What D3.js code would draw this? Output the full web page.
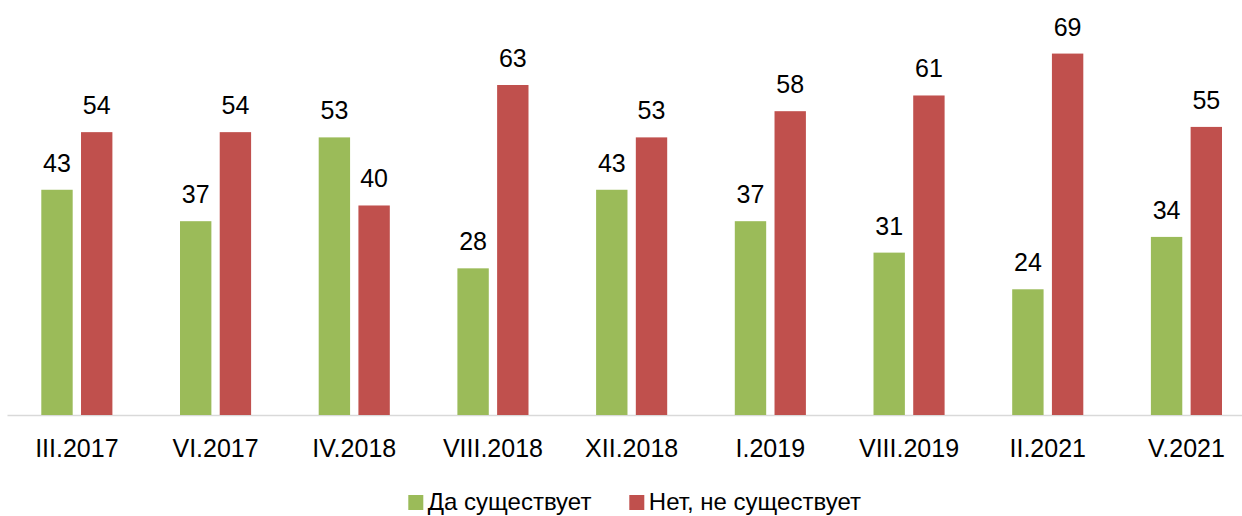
<!DOCTYPE html>
<html lang="ru">
<head>
<meta charset="utf-8">
<title>Да / Нет</title>
<script src="https://cdn.jsdelivr.net/npm/d3@7"></script>
<style>
  body { margin: 0; background: #fff; }
  text { font-family: "Liberation Sans", Arial, sans-serif; fill: #000; }
</style>
</head>
<body>
<script>
// data
var categories = ["III.2017", "VI.2017", "IV.2018", "VIII.2018", "XII.2018", "I.2019", "VIII.2019", "II.2021", "V.2021"];
var seriesNames = ["Да существует", "Нет, не существует"];
var yesValues = [43, 37, 53, 28, 43, 37, 31, 24, 34];
var noValues = [54, 54, 40, 63, 53, 58, 61, 69, 55];
var colors = ["#9bbb59", "#c0504d"];

var w = 1242, h = 516;
var baseY = 415;

var svg = d3.select("body").append("svg")
  .attr("width", w)
  .attr("height", h);

var x0 = d3.scaleBand()
  .domain(categories)
  .range([7.5, 7.5 + 9 * 138.7])
  .paddingInner(0)
  .paddingOuter(0);

var x1 = d3.scaleBand()
  .domain([0, 1])
  .range([33.8, 104.9])
  .paddingInner(0.21)
  .paddingOuter(0);

var y = d3.scaleLinear()
  .domain([0, 80])
  .range([baseY, baseY - 80 * 5.238]);

var rows = categories.map(function(c, i) {
  return { cat: c, vals: [yesValues[i], noValues[i]] };
});

// axis line
svg.append("line")
  .attr("x1", 7.5).attr("x2", w)
  .attr("y1", baseY + 0.5).attr("y2", baseY + 0.5)
  .attr("stroke", "#d9d9d9")
  .attr("stroke-width", 1.5);

var groups = svg.selectAll("g.grp")
  .data(rows)
  .enter()
  .append("g")
  .attr("class", "grp")
  .attr("transform", function(d) { return "translate(" + x0(d.cat) + ",0)"; });

groups.selectAll("rect")
  .data(function(d) { return d.vals; })
  .enter()
  .append("rect")
  .attr("x", function(d, i) { return x1(i); })
  .attr("width", x1.bandwidth())
  .attr("y", function(d) { return y(d); })
  .attr("height", function(d) { return baseY - y(d); })
  .attr("fill", function(d, i) { return colors[i]; });

groups.selectAll("text.val")
  .data(function(d) { return d.vals; })
  .enter()
  .append("text")
  .attr("class", "val")
  .attr("x", function(d, i) { return x1(i) + x1.bandwidth() / 2; })
  .attr("y", function(d) { return y(d) - 18; })
  .attr("text-anchor", "middle")
  .attr("font-size", 25)
  .text(function(d) { return d; });

// category labels
svg.selectAll("text.cat")
  .data(categories)
  .enter()
  .append("text")
  .attr("class", "cat")
  .attr("x", function(d) { return x0(d) + x0.bandwidth() / 2; })
  .attr("y", 457)
  .attr("text-anchor", "middle")
  .attr("font-size", 25)
  .text(function(d) { return d; });

// legend
var legendX = [408.3, 629.3];
var legend = svg.selectAll("g.leg")
  .data(seriesNames)
  .enter()
  .append("g")
  .attr("class", "leg")
  .attr("transform", function(d, i) { return "translate(" + legendX[i] + ",495)"; });

legend.append("rect")
  .attr("width", 15)
  .attr("height", 15)
  .attr("fill", function(d, i) { return colors[i]; });

legend.append("text")
  .attr("x", 19.5)
  .attr("y", 15)
  .attr("font-size", 24)
  .text(function(d) { return d; });
</script>
</body>
</html>
